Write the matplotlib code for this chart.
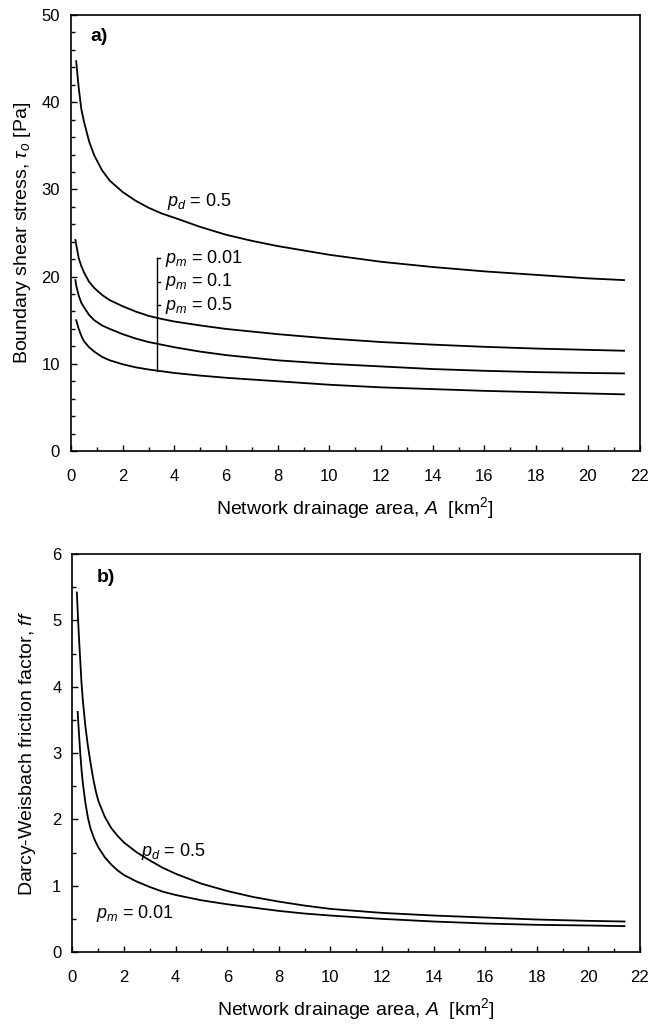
import numpy as np
import matplotlib
matplotlib.use("Agg")
import matplotlib.pyplot as plt

plt.rcParams["font.family"] = ["Liberation Sans", "DejaVu Sans"]
plt.rcParams["mathtext.fontset"] = "custom"
plt.rcParams["mathtext.rm"] = "Liberation Sans"
plt.rcParams["mathtext.it"] = "Liberation Sans:italic"
plt.rcParams["mathtext.bf"] = "Liberation Sans:bold"

# --- panel a: boundary shear stress (Pa) vs network drainage area (km2)
a_pd05_x = [0.2, 0.3, 0.4, 0.5, 0.7, 0.9, 1.2, 1.5, 2, 2.5, 3, 3.5, 4, 5, 6, 7, 8, 10, 12, 14, 16, 18, 20, 21.4]
a_pd05_y = [44.7, 41.6, 39.2, 37.8, 35.5, 33.9, 32.2, 31.0, 29.7, 28.7, 27.9, 27.25, 26.75, 25.7, 24.8, 24.1, 23.5, 22.5, 21.7, 21.1, 20.6, 20.2, 19.8, 19.6]

a_pm001_x = [0.17, 0.2, 0.3, 0.4, 0.5, 0.7, 0.9, 1.2, 1.5, 2, 2.5, 3, 3.5, 4, 5, 6, 7, 8, 10, 12, 14, 16, 18, 20, 21.4]
a_pm001_y = [24.2, 23.7, 22.1, 21.2, 20.5, 19.4, 18.7, 17.9, 17.3, 16.6, 16.0, 15.5, 15.15, 14.85, 14.4, 14.0, 13.7, 13.4, 12.9, 12.5, 12.2, 11.95, 11.75, 11.6, 11.5]

a_pm01_x = [0.17, 0.2, 0.3, 0.4, 0.5, 0.7, 0.9, 1.2, 1.5, 2, 2.5, 3, 3.5, 4, 5, 6, 7, 8, 10, 12, 14, 16, 18, 20, 21.4]
a_pm01_y = [19.6, 19.0, 17.8, 17.0, 16.5, 15.6, 15.0, 14.4, 14.0, 13.4, 12.9, 12.5, 12.2, 11.9, 11.4, 11.0, 10.7, 10.4, 10.0, 9.7, 9.4, 9.2, 9.05, 8.95, 8.9]

a_pm05_x = [0.2, 0.3, 0.4, 0.5, 0.7, 0.9, 1.2, 1.5, 2, 2.5, 3, 3.5, 4, 5, 6, 7, 8, 10, 12, 14, 16, 18, 20, 21.4]
a_pm05_y = [15.0, 14.0, 13.2, 12.6, 11.9, 11.4, 10.8, 10.4, 9.95, 9.6, 9.35, 9.15, 8.95, 8.65, 8.4, 8.2, 8.0, 7.6, 7.3, 7.1, 6.9, 6.75, 6.6, 6.5]

# bracket tying the three p_m labels to the curves
bracket_x = 3.31
bracket_top = 22.1
bracket_bottom = 9.2
bracket_ticks = [22.1, 19.4, 16.7]
pm_labels = ["0.01", "0.1", "0.5"]

# --- panel b: Darcy-Weisbach friction factor vs network drainage area
b_pd05_x = [0.17, 0.2, 0.25, 0.3, 0.35, 0.4, 0.5, 0.6, 0.7, 0.8, 0.9, 1.0, 1.25, 1.5, 1.75, 2, 2.5, 3, 3.5, 4, 5, 6, 7, 8, 9, 10, 12, 14, 16, 18, 20, 21.4]
b_pd05_y = [5.42, 5.15, 4.75, 4.40, 4.05, 3.80, 3.40, 3.10, 2.85, 2.62, 2.43, 2.28, 2.04, 1.87, 1.75, 1.65, 1.50, 1.38, 1.27, 1.18, 1.03, 0.92, 0.83, 0.76, 0.70, 0.65, 0.59, 0.55, 0.52, 0.49, 0.47, 0.46]

b_pm001_x = [0.2, 0.25, 0.3, 0.35, 0.4, 0.5, 0.6, 0.7, 0.85, 1.0, 1.25, 1.5, 1.75, 2, 2.5, 3, 3.5, 4, 5, 6, 7, 8, 9, 10, 12, 14, 16, 18, 20, 21.4]
b_pm001_y = [3.62, 3.30, 3.00, 2.75, 2.55, 2.25, 2.02, 1.86, 1.70, 1.58, 1.43, 1.32, 1.23, 1.16, 1.06, 0.98, 0.91, 0.86, 0.78, 0.72, 0.67, 0.62, 0.58, 0.55, 0.50, 0.46, 0.43, 0.41, 0.40, 0.39]

XLABEL = r"Network drainage area, $A$  [km$^2$]"
LW = 1.3
FS_TICK = 12
FS_LABEL = 14
FS_NOTE = 13


def style_axes(ax, ymax, ymajor, yminor):
    ax.set_xlim(0, 22)
    ax.set_ylim(0, ymax)
    ax.set_xticks(np.arange(0, 23, 2))
    ax.set_xticks(np.arange(0, 23, 1), minor=True)
    ax.set_yticks(np.arange(0, ymax + 0.01, ymajor))
    ax.set_yticks(np.arange(0, ymax + 0.01, yminor), minor=True)
    ax.tick_params(which="both", direction="in", top=False, right=False, width=1.0)
    ax.tick_params(which="major", length=4, labelsize=FS_TICK)
    ax.tick_params(which="minor", length=3)
    ax.tick_params(axis="x", which="major", pad=13)
    ax.tick_params(axis="y", which="major", pad=8)
    for s in ax.spines.values():
        s.set_linewidth(1.2)
    ax.set_xlabel(XLABEL, fontsize=FS_LABEL, labelpad=8)


fig = plt.figure(figsize=(6.49, 10.26), dpi=100)

# panel a
ax1 = fig.add_axes([0.1094, 0.5604, 0.876, 0.4250])
for xs, ys in [(a_pd05_x, a_pd05_y), (a_pm001_x, a_pm001_y),
               (a_pm01_x, a_pm01_y), (a_pm05_x, a_pm05_y)]:
    ax1.plot(xs, ys, color="black", lw=LW, solid_joinstyle="round")
ax1.plot([bracket_x, bracket_x], [bracket_bottom, bracket_top], color="black", lw=1.0)
for yt, lab in zip(bracket_ticks, pm_labels):
    ax1.plot([bracket_x, bracket_x + 0.14], [yt, yt], color="black", lw=1.0)
    ax1.text(bracket_x + 0.32, yt, r"$p_m$ = " + lab, fontsize=FS_NOTE, va="center", ha="left")
ax1.text(3.7, 28.6, r"$p_d$ = 0.5", fontsize=FS_NOTE, va="center", ha="left")
ax1.text(0.75, 47.5, "a)", fontsize=14, fontweight="bold", va="center", ha="left")
style_axes(ax1, 50, 10, 2)
ax1.set_ylabel(r"Boundary shear stress, $\tau_o$ [Pa]", fontsize=FS_LABEL, labelpad=6)

# panel b
ax2 = fig.add_axes([0.1117, 0.0721, 0.8744, 0.3879])
ax2.plot(b_pd05_x, b_pd05_y, color="black", lw=LW, solid_joinstyle="round")
ax2.plot(b_pm001_x, b_pm001_y, color="black", lw=LW, solid_joinstyle="round")
ax2.text(2.67, 1.51, r"$p_d$ = 0.5", fontsize=FS_NOTE, va="center", ha="left")
ax2.text(0.9, 0.58, r"$p_m$ = 0.01", fontsize=FS_NOTE, va="center", ha="left")
ax2.text(0.95, 5.64, "b)", fontsize=14, fontweight="bold", va="center", ha="left")
style_axes(ax2, 6, 1, 0.5)
ax2.set_ylabel(r"Darcy-Weisbach friction factor, $ff$", fontsize=FS_LABEL, labelpad=10)

fig.savefig("out.png", dpi=100, facecolor="white")
